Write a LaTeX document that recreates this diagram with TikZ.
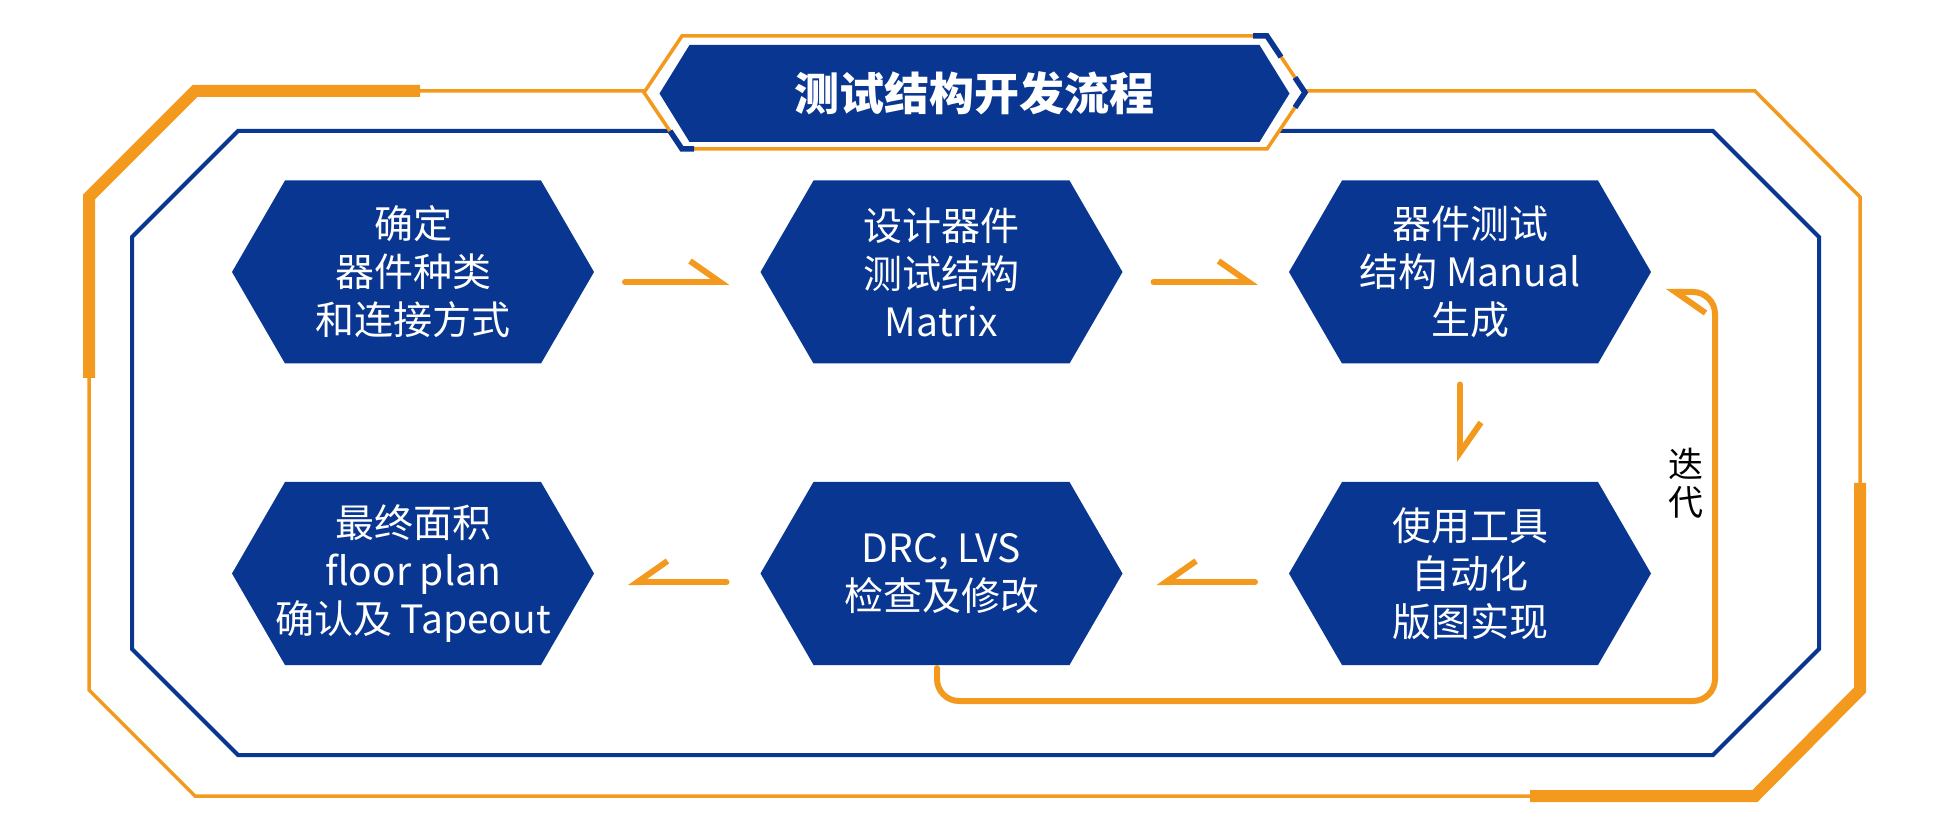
\documentclass[tikz,border=0pt]{standalone}
\usepackage{fontspec}
\setmainfont{Noto Sans CJK SC}
\usepackage{xcolor}
\usepackage{tikz}
\usetikzlibrary{arrows.meta,positioning,calc,backgrounds}
\definecolor{hexblue}{RGB}{8,54,145}
\definecolor{lineorange}{RGB}{243,154,30}

\begin{document}
\begin{tikzpicture}[
    x=0.5pt, y=-0.5pt,
    hexbox/.style={rectangle, text=white, minimum width=181pt, minimum height=91.5pt, inner sep=0pt, outer sep=0pt, align=center, font=\fontsize{19.5}{24}\selectfont},
    titlebox/.style={rectangle, text=white, minimum width=315pt, minimum height=48.5pt, inner sep=0pt, outer sep=0pt, font=\bfseries\fontsize{22.5}{27}\selectfont},
    flow/.style={draw=lineorange, line width=3pt, line cap=round, -{Straight Barb[harpoon, length=15pt, width=21pt]}},
    flowback/.style={flow, -{Straight Barb[harpoon, swap, length=15pt, width=21pt]}},
    framethin/.style={draw=lineorange, line width=1.75pt},
    framethick/.style={draw=lineorange, line width=6pt},
    frameblue/.style={draw=hexblue, line width=2pt},
    accent/.style={draw=hexblue, line width=2.75pt}
  ]
  \useasboundingbox (0,0) rectangle (1949,839);

  % 外框
  \draw[framethin] (644,91) -- (195,91) -- (89,197) -- (89,690) -- (195,796) -- (1755,796) -- (1860,690) -- (1860,197) -- (1755,91) -- (1305,91);
  \draw[framethick] (420,91) -- (195,91) -- (89,197) -- (89,378);
  \draw[framethick] (1530,796) -- (1755,796) -- (1860,690) -- (1860,483);
  \draw[frameblue] (670,131) -- (238,131) -- (132,237) -- (132,649) -- (238,755) -- (1713,755) -- (1819,649) -- (1819,237) -- (1713,131) -- (1279,131);

  % 标题
  \draw[framethin] (644,92.5) -- (682,36) -- (1267,36) -- (1305,92.5) -- (1267,149) -- (682,149) -- cycle;
  \draw[accent] (670,131) -- (682,149) -- (694,149);
  \draw[accent] (1253,36) -- (1267,36) -- (1281,57);
  \draw[accent] (1295,77.5) -- (1305,92.5) -- (1295,107.5);
  \node[titlebox] (title) at (974.5,93.5) {测试结构开发流程};

  % 流程节点
  \node[hexbox] (n1) at (413,272) {确定\\器件种类\\和连接方式};
  \node[hexbox] (n2) at (941.5,272) {设计器件\\测试结构\\Matrix};
  \node[hexbox] (n3) at (1470,272) {器件测试\\结构 Manual\\生成};
  \node[hexbox] (n4) at (413,573.5) {最终面积\\floor plan\\确认及 Tapeout};
  \node[hexbox] (n5) at (941.5,573.5) {DRC, LVS\\检查及修改};
  \node[hexbox] (n6) at (1470,573.5) {使用工具\\自动化\\版图实现};

  % 六边形底色
  \begin{pgfonlayer}{background}
    \foreach \n in {n1,n2,n3,n4,n5,n6}
      \fill[hexblue] ([xshift=26.5pt]\n.north west) -- ([xshift=-26.5pt]\n.north east) -- (\n.east) -- ([xshift=-26.5pt]\n.south east) -- ([xshift=26.5pt]\n.south west) -- (\n.west) -- cycle;
    \fill[hexblue] ([xshift=15pt]title.north west) -- ([xshift=-15pt]title.north east) -- (title.east) -- ([xshift=-15pt]title.south east) -- ([xshift=15pt]title.south west) -- (title.west) -- cycle;
  \end{pgfonlayer}

  % 箭头
  \draw[flow, shorten <=15.5pt, shorten >=15.5pt] ([yshift=-5pt]n1.east) -- ([yshift=-5pt]n2.west);
  \draw[flow, shorten <=15.5pt, shorten >=15.5pt] ([yshift=-5pt]n2.east) -- ([yshift=-5pt]n3.west);
  \draw[flow, shorten <=10.5pt, shorten >=10pt] ([xshift=-5pt]n3.south) -- ([xshift=-5pt]n6.north);
  \draw[flowback, shorten <=17pt, shorten >=17pt] ([yshift=-4.25pt]n6.west) -- ([yshift=-4.25pt]n5.east);
  \draw[flowback, shorten <=17pt, shorten >=17pt] ([yshift=-4.25pt]n5.west) -- ([yshift=-4.25pt]n4.east);

  % 迭代回路
  \coordinate (loopbr) at (1715,701);
  \draw[flow, rounded corners=11pt, shorten <=1.5pt] ([xshift=-2.25pt]n5.south) |- (loopbr) |- ([xshift=7.5pt, yshift=-10pt]n3.east);
  \node[align=center, inner sep=0pt, font=\fontsize{17.5}{19.25}\selectfont] (iter) at (1686,483) {迭\\代};
\end{tikzpicture}
\end{document}
